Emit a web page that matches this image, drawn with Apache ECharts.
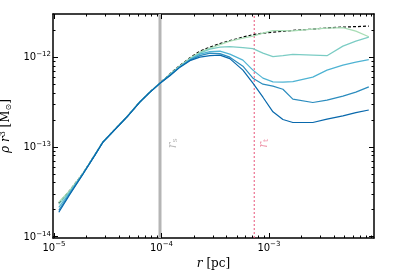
<!DOCTYPE html>
<html><head><meta charset="utf-8">
<script src="https://cdn.jsdelivr.net/npm/echarts@6/dist/echarts.min.js"></script>
<style>html,body{margin:0;padding:0;background:#fff}#c{width:407px;height:271px}</style>
</head><body><div id="c"></div>
<script>
// radius r [pc]
const radius = [1.11e-5,1.41e-5,1.86e-5,2.4e-5,2.85e-5,3.7e-5,4.8e-5,6.3e-5,7.8e-5,9.7e-5,
  1.2e-4,1.49e-4,1.84e-4,2.28e-4,2.83e-4,3.5e-4,4.33e-4,5.73e-4,7.1e-4,8.8e-4,
  1.09e-3,1.35e-3,1.67e-3,2.56e-3,3.47e-3,4.88e-3,6.44e-3,8.5e-3];
// rho r^3 [Msun] for five snapshots (light -> dark)
const curve1 = [2.40e-14,3.27e-14,5.05e-14,8.1e-14,1.13e-13,1.56e-13,2.17e-13,3.16e-13,4.05e-13,5.1e-13,
  6.41e-13,7.98e-13,9.67e-13,1.128e-12,1.25e-12,1.368e-12,1.497e-12,1.616e-12,1.701e-12,1.837e-12,
  1.959e-12,1.959e-12,1.949e-12,2.036e-12,2.089e-12,2.116e-12,1.934e-12,1.671e-12];
const curve2 = [2.28e-14,3.18e-14,5.02e-14,8.07e-14,1.125e-13,1.556e-13,2.16e-13,3.15e-13,4.04e-13,5.09e-13,
  6.36e-13,7.87e-13,9.43e-13,1.099e-12,1.218e-12,1.282e-12,1.299e-12,1.266e-12,1.234e-12,1.099e-12,
  1.005e-12,1.031e-12,1.064e-12,1.045e-12,1.031e-12,1.316e-12,1.497e-12,1.658e-12];
const curve3 = [2.11e-14,3.10e-14,4.99e-14,8.05e-14,1.12e-13,1.556e-13,2.16e-13,3.15e-13,4.04e-13,5.09e-13,
  6.30e-13,7.81e-13,9.31e-13,1.072e-12,1.143e-12,1.157e-12,1.072e-12,9.19e-13,7.11e-13,5.79e-13,
  5.26e-13,5.22e-13,5.29e-13,5.94e-13,7.11e-13,8.08e-13,8.73e-13,9.31e-13];
const curve4 = [1.95e-14,3.02e-14,4.95e-14,8.03e-14,1.118e-13,1.553e-13,2.155e-13,3.14e-13,4.03e-13,5.08e-13,
  6.23e-13,7.73e-13,9.19e-13,1.031e-12,1.099e-12,1.086e-12,9.92e-13,7.87e-13,5.79e-13,4.96e-13,
  4.71e-13,4.36e-13,3.38e-13,3.10e-13,3.29e-13,3.65e-13,4.04e-13,4.63e-13];
const curve5 = [1.86e-14,2.95e-14,4.92e-14,8.0e-14,1.115e-13,1.55e-13,2.15e-13,3.13e-13,4.02e-13,5.07e-13,
  6.17e-13,7.68e-13,9.07e-13,9.92e-13,1.031e-12,1.045e-12,9.55e-13,7.11e-13,5.09e-13,3.55e-13,
  2.44e-13,2.005e-13,1.857e-13,1.857e-13,2.02e-13,2.20e-13,2.39e-13,2.56e-13];
// analytic profile (black dashed)
const analytic = [2.34e-14,3.27e-14,5.05e-14,8.1e-14,1.13e-13,1.56e-13,2.17e-13,3.16e-13,4.06e-13,5.12e-13,
  6.45e-13,8.05e-13,9.75e-13,1.157e-12,1.282e-12,1.403e-12,1.516e-12,1.658e-12,1.769e-12,1.837e-12,
  1.885e-12,1.925e-12,1.970e-12,2.036e-12,2.10e-12,2.143e-12,2.171e-12,2.199e-12];
// reference radii
const rS = 9.7e-5;
const rT = 7.3e-4;
const labelY = 1.09e-13;
// axis ticks
const xMajor = [1e-5,1e-4,1e-3];
const yMajor = [1e-14,1e-13,1e-12];
const xRange = [9.8e-6, 9.5e-3];
const yRange = [9.6e-15, 3e-12];

function minors(majors, lo, hi){
  const out = [];
  majors.concat([majors[majors.length-1]*10]).forEach(m => {
    for (let k=2;k<=9;k++){ const v=m*k; if (v<hi && v>lo) out.push(v); }
  });
  return out;
}
const xMinor = minors(xMajor, xRange[0], xRange[1]);
const yMinor = minors(yMajor, yRange[0], yRange[1]);
const colors = ['#a8ddb5','#7bccc4','#4eb3d3','#2b8cbe','#0868ac'];
const curves = [curve1,curve2,curve3,curve4,curve5];

const pow = v => '{b|10}{s|' + String(Math.round(Math.log10(v))).replace('-', '\u2212') + '}';
const tickRich = {
  b:{fontSize:10, fontFamily:'DejaVu Sans', color:'#000', lineHeight:12, verticalAlign:'bottom'},
  s:{fontSize:7, fontFamily:'DejaVu Sans', color:'#000', lineHeight:7, verticalAlign:'top'}
};
const lineCol = '#000';
function ax(pos, range, majors, showLabel, margin){
  return {type:'log', position:pos, min:range[0], max:range[1], logBase:10, offset:0,
    axisLine:{show:true, onZero:false, lineStyle:{color:lineCol,width:1.5}},
    axisTick:{show:false},
    axisLabel:{show:showLabel, customValues:majors, formatter:pow, rich:tickRich, margin:margin},
    splitLine:{show:false}, minorTick:{show:false}, minorSplitLine:{show:false}};
}
const xAxes = [ax('bottom', xRange, xMajor, true, 3), ax('top', xRange, xMajor, false, 3)];
xAxes[0].name = '{i|r}{n| [pc]}';
xAxes[0].nameLocation = 'middle';
xAxes[0].nameGap = 18;
xAxes[0].nameTextStyle = {rich:{
  i:{fontFamily:'DejaVu Serif', fontStyle:'italic', fontSize:12, color:'#000'},
  n:{fontFamily:'DejaVu Serif', fontSize:12, color:'#000'}}};
const yAxes = [ax('left', yRange, yMajor, true, 2), ax('right', yRange, yMajor, false, 2)];
yAxes[0].name = '{i|\u03c1 r}{sup|3}{n| [M}{sub|\u2299}{n|]}';
yAxes[0].nameLocation = 'middle';
yAxes[0].nameGap = 21;
yAxes[0].nameTextStyle = {rich:{
  i:{fontFamily:'DejaVu Serif', fontStyle:'italic', fontSize:12, color:'#000', lineHeight:14, verticalAlign:'middle'},
  sup:{fontFamily:'DejaVu Serif', fontSize:8, color:'#000', lineHeight:14, verticalAlign:'top'},
  n:{fontFamily:'DejaVu Serif', fontSize:12, color:'#000', lineHeight:14, verticalAlign:'middle'},
  sub:{fontFamily:'DejaVu Sans', fontSize:8, color:'#000', lineHeight:14, verticalAlign:'bottom'}}};

const series = [];
// reference radii as vertical lines spanning the y range
series.push({type:'line', data:[[rS, yRange[0]],[rS, yRange[1]]], showSymbol:false, silent:true,
  lineStyle:{color:'#b5b5b5', width:3}, z:0, animation:false});
series.push({type:'line', data:[[rT, yRange[0]],[rT, yRange[1]]], showSymbol:false, silent:true,
  lineStyle:{color:'#e8557a', width:1, type:[2,2]}, z:0, animation:false});
series.push({type:'line', name:'analytic', data: radius.map((r,i)=>[r, analytic[i]]), showSymbol:false,
  lineStyle:{color:'#000', width:1.2, type:[3,2]}, z:1, silent:true, animation:false});
curves.forEach((c,k)=>{
  series.push({type:'line', data: radius.map((r,i)=>[r, c[i]]), showSymbol:false,
    lineStyle:{color:colors[k], width:1.2}, z:2+k, silent:true, animation:false});
});
series.push({type:'scatter', symbolSize:0, silent:true, animation:false,
  data:[{value:[rS*1.33, labelY], label:{formatter:'{r|r}{s|s}', rich:{
      r:{fontFamily:'DejaVu Serif', fontStyle:'italic', fontSize:12, color:'#aaaaaa', lineHeight:12, verticalAlign:'top'},
      s:{fontFamily:'DejaVu Serif', fontSize:8, color:'#aaaaaa', lineHeight:12, verticalAlign:'bottom'}}}},
    {value:[rT*1.22, labelY], label:{formatter:'{r|r}{s|t}', rich:{
      r:{fontFamily:'DejaVu Serif', fontStyle:'italic', fontSize:12, color:'#ec7f98', lineHeight:12, verticalAlign:'top'},
      s:{fontFamily:'DejaVu Serif', fontSize:8, color:'#ec7f98', lineHeight:12, verticalAlign:'bottom'}}}}],
  label:{show:true, rotate:90, position:'inside'}});
// inward tick marks on all four sides, placed through the axes' scales
const tickStyle = {stroke:'#000', lineWidth:1};
series.push({type:'custom', silent:true, animation:false, z:20, clip:false,
  data: xMajor.map(v=>[v, yRange[0], 1]).concat(xMinor.map(v=>[v, yRange[0], 0])),
  renderItem:(params, api)=>{
    const v = api.value(0), len = api.value(2) ? 5 : 2.5;
    const pb = api.coord([v, yRange[0]]), pt = api.coord([v, yRange[1]]);
    const x = Math.round(pb[0]) + 0.5;
    return {type:'group', children:[
      {type:'line', shape:{x1:x, y1:pb[1], x2:x, y2:pb[1]-len}, style:tickStyle},
      {type:'line', shape:{x1:x, y1:pt[1], x2:x, y2:pt[1]+len}, style:tickStyle}]};
  }});
series.push({type:'custom', silent:true, animation:false, z:20, clip:false,
  data: yMajor.map(v=>[xRange[0], v, 1]).concat(yMinor.map(v=>[xRange[0], v, 0])),
  renderItem:(params, api)=>{
    const v = api.value(1), len = api.value(2) ? 5 : 2.5;
    const pl = api.coord([xRange[0], v]), pr = api.coord([xRange[1], v]);
    const y = Math.round(pl[1]) + 0.5;
    return {type:'group', children:[
      {type:'line', shape:{x1:pl[0], y1:y, x2:pl[0]+len, y2:y}, style:tickStyle},
      {type:'line', shape:{x1:pr[0], y1:y, x2:pr[0]-len, y2:y}, style:tickStyle}]};
  }});

const chart = echarts.init(document.getElementById('c'), null, {renderer:'canvas'});
chart.setOption({
  animation:false,
  grid:{left:53, top:14, right:33, bottom:33, containLabel:false, outerBoundsMode:'none'},
  xAxis:xAxes, yAxis:yAxes, series:series
});
</script></body></html>
